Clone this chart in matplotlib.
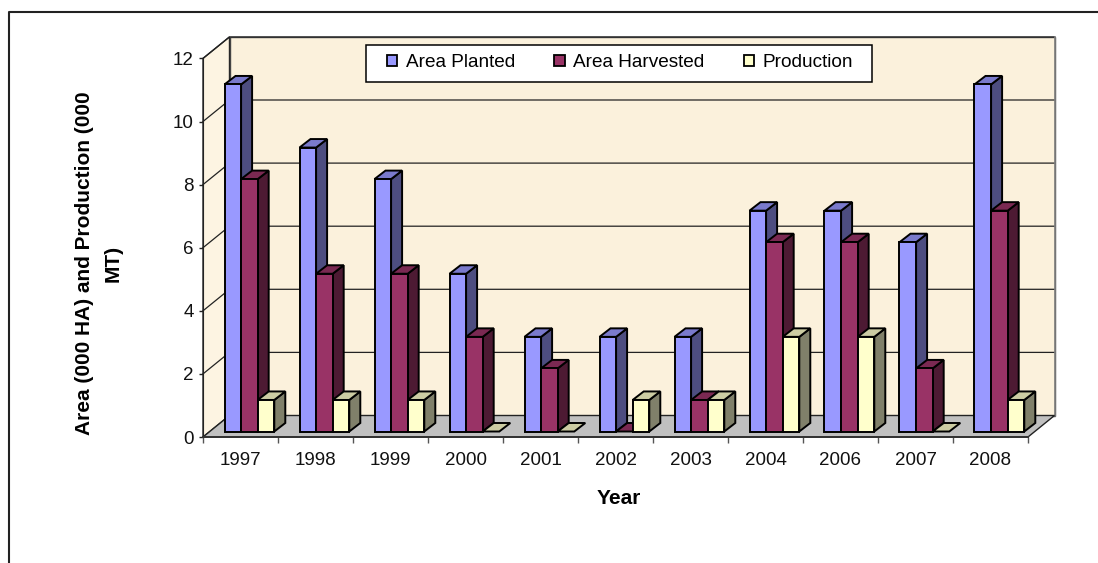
import matplotlib
matplotlib.use('Agg')
import matplotlib.pyplot as plt
from matplotlib.lines import Line2D
from matplotlib.patches import Patch, Polygon, Rectangle

years = ['1997', '1998', '1999', '2000', '2001', '2002', '2003', '2004', '2006', '2007', '2008']
area_planted = [11, 9, 8, 5, 3, 3, 3, 7, 7, 6, 11]
area_harvested = [8, 5, 5, 3, 2, 0, 1, 6, 6, 2, 7]
production = [1, 1, 1, 0, 0, 1, 1, 3, 3, 0, 1]

W, H = 1098, 563
plt.rcParams['font.family'] = ['Liberation Sans', 'DejaVu Sans']

fig = plt.figure(figsize=(W / 100, H / 100), dpi=100)
ax = fig.add_axes([203 / W, (H - 437) / H, 825 / W, 378.6 / H])
ax.set_xlim(0, 11)
ax.set_ylim(0, 12)
ax.patch.set_visible(False)

# pixels -> data units for the fake 3d depth
px = 11 / 825
py = 12 / 378.6
wall_dx, wall_dy = 26.5 * px, 21.5 * py
bar_dx, bar_dy = 11 * px, 8.5 * py
front_dx, front_dy = 6.5 * px, 5.5 * py
bar_w = 16.6 * px
bar_start = 0.2

WALL = '#FBF1DC'
SIDE_WALL = '#FDF4E2'
FLOOR = '#C0C0C0'
EDGE = 'black'


def poly(points, color, z, lw=1.4, edge=EDGE):
    ax.add_patch(Polygon(points, closed=True, facecolor=color, edgecolor=edge,
                         linewidth=lw, clip_on=False, zorder=z, joinstyle='miter'))


# walls and floor
poly([(0, 0), (wall_dx, wall_dy), (wall_dx, 12 + wall_dy), (0, 12)], SIDE_WALL, 1, 1.0, '#222222')
poly([(wall_dx, wall_dy), (11 + wall_dx, wall_dy), (11 + wall_dx, 12 + wall_dy), (wall_dx, 12 + wall_dy)],
     WALL, 1, 1.0, '#444444')
ax.plot([11 + wall_dx, 11 + wall_dx], [wall_dy, 12 + wall_dy], color='#808080', lw=1.2, clip_on=False, zorder=1.2)
for v in range(2, 13, 2):
    ax.plot([0, wall_dx, 11 + wall_dx], [v, v + wall_dy, v + wall_dy], color='#222222', lw=0.9,
            clip_on=False, zorder=1.1)
poly([(0, 0), (11, 0), (11 + wall_dx, wall_dy), (wall_dx, wall_dy)], FLOOR, 1.5, 1.0, '#222222')

series = [
    ('Area Planted', area_planted, '#9999FF', '#7A7ACC', '#4D4D80'),
    ('Area Harvested', area_harvested, '#993366', '#7A2952', '#4D1A33'),
    ('Production', production, '#FFFFCC', '#CCCCA3', '#80806A'),
]

z = 2
for i in range(len(years)):
    for k, (name, vals, front, top, side) in enumerate(series):
        x0 = i + bar_start + k * bar_w + front_dx
        x1 = x0 + bar_w
        y0 = front_dy
        y1 = vals[i] + front_dy
        if vals[i] > 0:
            poly([(x1, y0), (x1 + bar_dx, y0 + bar_dy), (x1 + bar_dx, y1 + bar_dy), (x1, y1)], side, z)
            poly([(x0, y0), (x1, y0), (x1, y1), (x0, y1)], front, z + 0.2)
        poly([(x0, y1), (x1, y1), (x1 + bar_dx, y1 + bar_dy), (x0 + bar_dx, y1 + bar_dy)], top, z + 0.1)
        z += 1

# axes furniture
for s in ['top', 'right']:
    ax.spines[s].set_visible(False)
ax.spines['left'].set_color('#222222')
ax.spines['bottom'].set_color('#333333')
ax.spines['bottom'].set_linewidth(1.4)
ax.set_xticks([i + 0.5 for i in range(len(years))])
ax.set_xticklabels(years, fontsize=13.5, color='#111111')
ax.set_xticks(range(len(years) + 1), minor=True)
ax.tick_params(axis='x', which='major', length=0, pad=11)
ax.tick_params(axis='x', which='minor', length=4, width=1, color='#555555')
ax.set_yticks(range(0, 13, 2))
ax.tick_params(axis='y', length=3, width=1, labelsize=13.5, pad=3.5, color='#222222', labelcolor='#111111')

ax.set_ylabel('Area (000 HA) and Production (000\nMT)', fontsize=15, fontweight='bold',
              linespacing=1.62, va='center', ma='center')
ax.yaxis.set_label_coords((99 - 203) / 825, (437 - 263) / 378.6)
ax.set_xlabel('Year', fontsize=15, fontweight='bold', va='center')
ax.xaxis.set_label_coords((619 - 203) / 825, (437 - 499) / 378.6)

# legend box
fig.add_artist(Rectangle((366 / W, (H - 82) / H), 506 / W, 37 / H, transform=fig.transFigure,
                         facecolor='white', edgecolor='black', linewidth=1.1, zorder=50))
handles = [Patch(facecolor=s[2], edgecolor='black', linewidth=1.3, label=s[0]) for s in series]
leg = fig.legend(handles=handles, ncol=3, frameon=False, fontsize=13.7, loc='center',
                 bbox_to_anchor=(620 / W, (H - 62.5) / H), handlelength=0.55, handleheight=0.55,
                 handletextpad=0.45, columnspacing=2.05, borderpad=0)
leg.set_zorder(51)

# outer frame, open on the right and bottom
fig.add_artist(Line2D([9 / W, 9 / W, 1], [0, (H - 11.5) / H, (H - 11.5) / H], color='#222222', lw=1.5,
                      transform=fig.transFigure, zorder=60))

fig.savefig('out.png', dpi=100)
